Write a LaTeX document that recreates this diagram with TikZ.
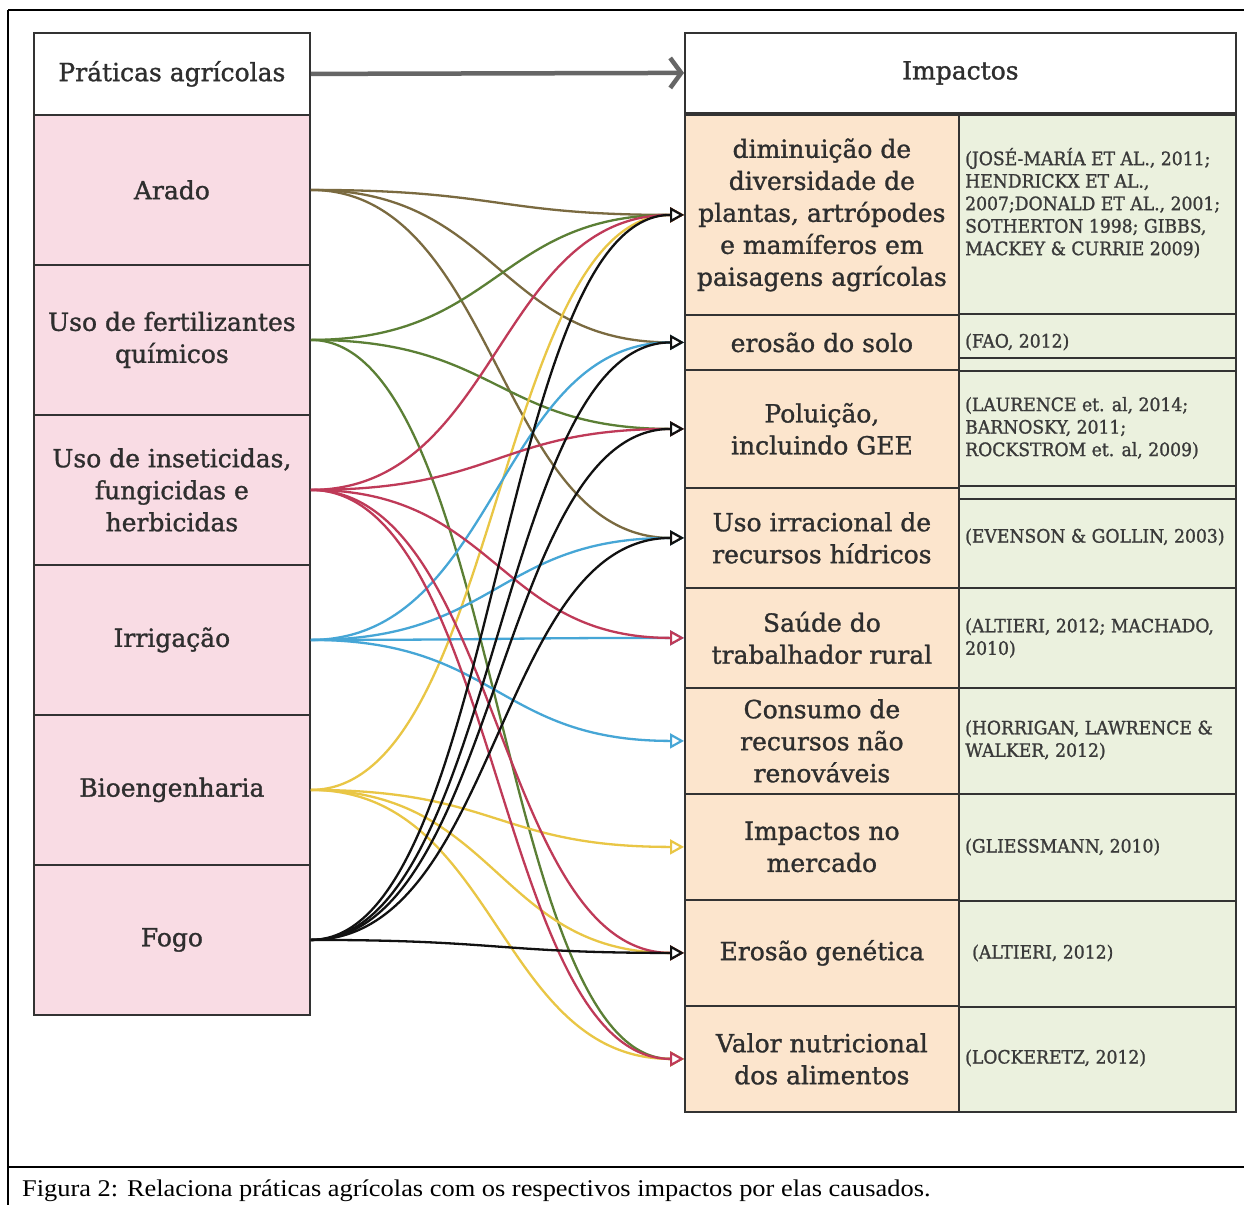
\documentclass[tikz,border=0pt]{standalone}
\usepackage{fontspec}
\setmainfont{DejaVu Serif}
\newfontfamily\mainfnt[FakeBold=1.2]{DejaVu Serif}
\newfontfamily\citefont[FakeStretch=0.93, FakeBold=1.2]{DejaVu Serif}
\newfontfamily\capfont[FakeStretch=1.1]{Liberation Serif}
\usetikzlibrary{arrows.meta}
\definecolor{pinkc}{HTML}{F9DCE4}
\definecolor{peach}{HTML}{FCE5CD}
\definecolor{sage}{HTML}{EBF1DE}
\definecolor{edge}{HTML}{333333}
\definecolor{cArado}{HTML}{7A6A40}
\definecolor{cFert}{HTML}{5B7F35}
\definecolor{cInset}{HTML}{BF3A58}
\definecolor{cIrr}{HTML}{46A6D6}
\definecolor{cBio}{HTML}{E9C645}
\definecolor{cFogo}{HTML}{111111}
\definecolor{citec}{HTML}{3A3A3A}
\definecolor{txtc}{HTML}{2E2E2E}
\tikzset{
  cell/.style={draw=edge, line width=1.8pt, anchor=north west, inner sep=0pt, align=center,
    text=txtc, font=\mainfnt\fontsize{25}{32}\selectfont},
  prat/.style={cell, fill=pinkc, minimum width=276pt, minimum height=150pt},
  imp/.style={cell, fill=peach, minimum width=274pt},
  gcell/.style={draw=edge, line width=1.8pt, anchor=north west, inner sep=0pt, fill=sage, minimum width=277pt},
  cite/.style={anchor=west, inner sep=0pt, align=left, text=citec,
    font=\citefont\fontsize{18.5}{22.5}\selectfont},
  link/.style={line width=2.3pt, out=0, in=180, distance=187pt,
    -{Triangle[open, fill=white, length=14pt, width=15pt, line width=2.2pt]}},
}
\begin{document}
\begin{tikzpicture}[x=1pt, y=-1pt]
\useasboundingbox (0,0) rectangle (1244,1205);
\fill[white] (0,0) rectangle (1244,1205);
% frame
\draw[line width=1.5pt] (8,10) -- (1244,10);
\draw[line width=1.5pt] (8,10) -- (8,1205);
\draw[line width=1.5pt] (8,1167) -- (1244,1167);

% left column
\node[cell, fill=white, minimum width=276pt, minimum height=82pt] (pr) at (33,32) {Práticas agrícolas};
\node[prat] (arado) at (33,114) {Arado};
\node[prat] (fert) at (33,264) {Uso de fertilizantes\\químicos};
\node[prat] (inset) at (33,414) {Uso de inseticidas,\\fungicidas e\\herbicidas};
\node[prat] (irr) at (33,564) {Irrigação};
\node[prat] (bio) at (33,714) {Bioengenharia};
\node[prat] (fogo) at (33,864) {Fogo};

% right header
\node[cell, fill=white, minimum width=551pt, minimum height=80pt] (impact) at (684,32) {Impactos};
\draw[line width=4.5pt, draw=black!60, -{Straight Barb[length=11pt, width=30pt]}] (pr.east) -- (impact.west);

% impacts
\node[imp, minimum height=200pt] (r1) at (684,114) {diminuição de\\diversidade de\\plantas, artrópodes\\e mamíferos em\\paisagens agrícolas};
\node[imp, minimum height=55pt] (r2) at (684,314) {erosão do solo};
\node[imp, minimum height=118pt] (r3) at (684,369) {Poluição,\\incluindo GEE};
\node[imp, minimum height=100pt] (r4) at (684,487) {Uso irracional de\\recursos hídricos};
\node[imp, minimum height=100pt] (r5) at (684,587) {Saúde do\\trabalhador rural};
\node[imp, minimum height=106pt] (r6) at (684,687) {Consumo de\\recursos não\\renováveis};
\node[imp, minimum height=106pt] (r7) at (684,793) {Impactos no\\mercado};
\node[imp, minimum height=106pt] (r8) at (684,899) {Erosão genética};
\node[imp, minimum height=106pt] (r9) at (684,1005) {Valor nutricional\\dos alimentos};

% citation cells
\node[gcell, minimum height=199pt] (g1) at (958,114) {};
\node[gcell, minimum height=44pt] (g2) at (958,313) {};
\node[gcell, minimum height=13pt] (gs1) at (958,357) {};
\node[gcell, minimum height=115pt] (g3) at (958,370) {};
\node[gcell, minimum height=13pt] (gs2) at (958,485) {};
\node[gcell, minimum height=89pt] (g4) at (958,498) {};
\node[gcell, minimum height=100pt] (g5) at (958,587) {};
\node[gcell, minimum height=106pt] (g6) at (958,687) {};
\node[gcell, minimum height=107pt] (g7) at (958,793) {};
\node[gcell, minimum height=106pt] (g8) at (958,900) {};
\node[gcell, minimum height=105pt] (g9) at (958,1006) {};

\node[cite] (t1) at (965,203) {(JOSÉ-MARÍA ET AL., 2011;\\HENDRICKX ET AL.,\\2007;DONALD ET AL., 2001;\\SOTHERTON 1998; GIBBS,\\MACKEY \& CURRIE 2009)};
\node[cite] (t2) at (965,342) {(FAO, 2012)};
\node[cite] (t3) at (965,428) {(LAURENCE et. al, 2014;\\BARNOSKY, 2011;\\ROCKSTROM et. al, 2009)};
\node[cite] (t4) at (965,537) {(EVENSON \& GOLLIN, 2003)};
\node[cite] (t5) at (965,638) {(ALTIERI, 2012; MACHADO,\\2010)};
\node[cite] (t6) at (965,740) {(HORRIGAN, LAWRENCE \&\\WALKER, 2012)};
\node[cite] (t7) at (965,847) {(GLIESSMANN, 2010)};
\node[cite] (t8) at (972,953) {(ALTIERI, 2012)};
\node[cite] (t9) at (965,1058) {(LOCKERETZ, 2012)};

% connectors
\draw[link, cArado] (arado.east) to (r1.west);
\draw[link, cArado] (arado.east) to (r2.west);
\draw[link, cArado] (arado.east) to (r4.west);
\draw[link, cFert] (fert.east) to (r1.west);
\draw[link, cFert] (fert.east) to (r3.west);
\draw[link, cFert] (fert.east) to (r9.west);
\draw[link, cBio] (bio.east) to (r1.west);
\draw[link, cBio] (bio.east) to (r7.west);
\draw[link, cBio] (bio.east) to (r8.west);
\draw[link, cBio] (bio.east) to (r9.west);
\draw[link, cIrr] (irr.east) to (r2.west);
\draw[link, cIrr] (irr.east) to (r4.west);
\draw[link, cIrr] (irr.east) to (r5.west);
\draw[link, cIrr] (irr.east) to (r6.west);
\draw[link, cInset] (inset.east) to (r1.west);
\draw[link, cInset] (inset.east) to (r3.west);
\draw[link, cInset] (inset.east) to (r5.west);
\draw[link, cInset] (inset.east) to (r8.west);
\draw[link, cInset] (inset.east) to (r9.west);
\draw[link, cFogo] (fogo.east) to (r1.west);
\draw[link, cFogo] (fogo.east) to (r2.west);
\draw[link, cFogo] (fogo.east) to (r3.west);
\draw[link, cFogo] (fogo.east) to (r4.west);
\draw[link, cFogo] (fogo.east) to (r8.west);

% caption
\node[font=\capfont\fontsize{24}{28}\selectfont, anchor=base west, inner sep=0pt] (cap) at (22,1196) {Figura 2: Relaciona práticas agrícolas com os respectivos impactos por elas causados.};
\end{tikzpicture}
\end{document}
